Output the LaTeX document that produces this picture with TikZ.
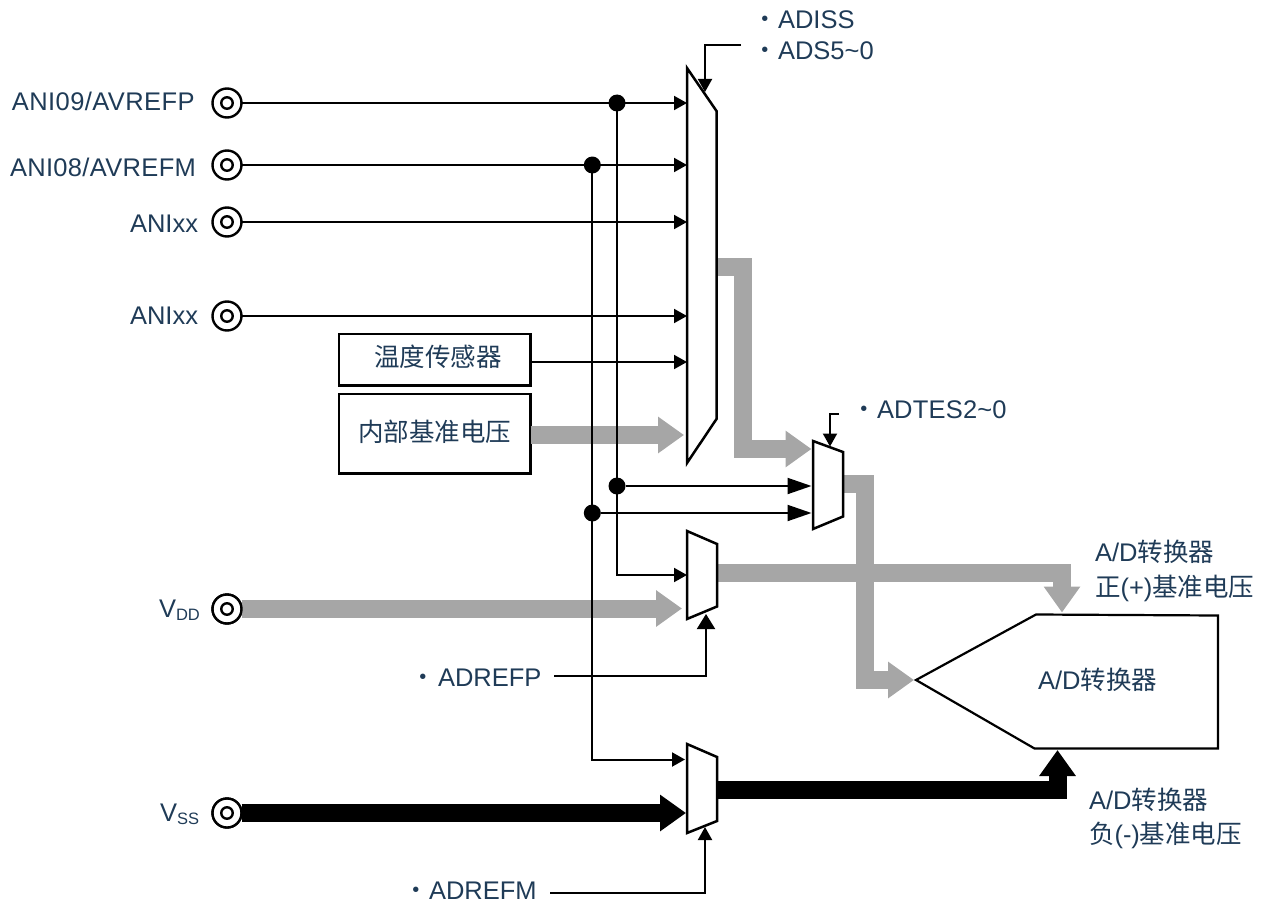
\documentclass[tikz,border=0pt]{standalone}
\usepackage{fontspec}
\setmainfont{Liberation Sans}
\newfontfamily\cjk{Noto Sans CJK SC}
\usetikzlibrary{arrows.meta}
\definecolor{txt}{HTML}{1F3B57}
\definecolor{busgray}{HTML}{A6A6A6}
\tikzset{
  x=1pt,y=-1pt,
  lbl/.style={inner sep=0pt,outer sep=0pt,anchor=base west,text=txt,font=\fontsize{25.5}{30}\selectfont},
  pin/.style={circle,draw=black,line width=2.4pt,fill=white,minimum size=29pt,inner sep=0pt,outer sep=0pt},
  pinin/.style={circle,draw=black,line width=2.4pt,minimum size=11.5pt,inner sep=0pt,outer sep=0pt},
  wire/.style={draw=black,line width=2pt},
  warrow/.style={wire,-{Triangle[length=13pt,width=14pt,sep=0pt]}},
  wbig/.style={wire,-{Triangle[length=24pt,width=16pt,sep=0pt]}},
  jdot/.style={circle,fill=black,minimum size=17pt,inner sep=0pt,outer sep=0pt},
  mux/.style={draw=black,line width=2.5pt,fill=white,line join=miter},
  graybus/.style={draw=busgray,line width=18pt,line join=miter,-{Triangle[length=26pt,width=35pt,sep=0pt]}},
  blackbus/.style={draw=black,line width=18pt,line join=miter,-{Triangle[length=26pt,width=35pt,sep=0pt]}},
  blockbox/.style={draw=black,line width=2.6pt,inner sep=0pt,outer sep=0pt,anchor=north west,text=txt,font=\fontsize{25.5}{30}\selectfont\cjk},
}
\newcommand{\zd}{{\cjk ・}}
\begin{document}
\begin{tikzpicture}
\useasboundingbox (0,0) rectangle (1267,907);
% coordinates
\coordinate (m1a) at (687,103);
\coordinate (m1b) at (687,165);
\coordinate (m1c) at (687,222);
\coordinate (m1d) at (687,316);
\coordinate (m1e) at (687,362);
\coordinate (m1f) at (684,435);
\coordinate (m1ctl) at (705,92);
\coordinate (adsx) at (741,45.5);
\coordinate (m1out) at (717,267);
\coordinate (m2a) at (811.5,449);
\coordinate (m2b) at (811.5,486);
\coordinate (m2c) at (811.5,513);
\coordinate (m2ctl) at (830,446.5);
\coordinate (adtx) at (839,414);
\coordinate (m2out) at (843,484);
\coordinate (m3a) at (687,575);
\coordinate (m3b) at (682,608.5);
\coordinate (m3ctl) at (706,614);
\coordinate (m3out) at (717,573);
\coordinate (refp) at (554,675.5);
\coordinate (m4a) at (685,759.5);
\coordinate (m4b) at (686,813);
\coordinate (m4ctl) at (705,827);
\coordinate (m4out) at (717,790);
\coordinate (refm) at (550,892.5);
\coordinate (adcl) at (914,680);
\coordinate (adct) at (1062,612.5);
\coordinate (adcb) at (1057.5,750);
% pins
\node[pin] (p1) at (227,103) {};
\node[pin] (p2) at (227,165) {};
\node[pin] (p3) at (227,222) {};
\node[pin] (p4) at (227,316) {};
\node[pin] (p5) at (227,609) {};
\node[pin] (p6) at (227,813) {};
% boxes
\node[blockbox,minimum width=191.5pt,minimum height=51.5pt] (b1) at (339,334) {\hspace{6pt}\raisebox{3.5pt}[\height][\depth]{温度传感器}};
\node[blockbox,minimum width=191.5pt,minimum height=79.5pt] (b2) at (339,394) {\raisebox{1.5pt}[\height][\depth]{内部基准电压}};
% buses
\draw[graybus] (b2.east |- m1f) -- (m1f);
\draw[graybus] (m1out) -- (743,267) -- (743,449) -- (m2a);
\draw[graybus] (m2out) -- (865,484) -- (865,680) -- (adcl);
\draw[graybus] (m3out) -- (1062,573) -- (adct);
\draw[graybus] (p5.east |- m3b) -- (m3b);
\draw[blackbus] (m4out) -- (1057.5,790) -- (adcb);
\draw[blackbus] (p6.east) -- (m4b);
% re-draw pins over bus ends
\node[pin] at (p5) {};
\node[pin] at (p6) {};
\foreach \p in {p1,p2,p3,p4,p5,p6} \node[pinin] at (\p) {};
% muxes
\draw[mux] (687,68) -- (716.5,111) -- (716.5,419) -- (687,463) -- cycle;
\draw[mux] (813,441) -- (843,452) -- (843,516.5) -- (813,529) -- cycle;
\draw[mux] (687,531) -- (717,544) -- (717,606.5) -- (687,619) -- cycle;
\draw[mux] (687,744) -- (717,757) -- (717,821) -- (687,833) -- cycle;
\draw[mux,line width=2.2pt] (916,680) -- (1036,614.5) -- (1218,615.5) -- (1218,748.5) -- (1034.5,748.5) -- cycle;
% wires
\draw[warrow] (p1.east) -- (m1a);
\draw[warrow] (p2.east) -- (m1b);
\draw[warrow] (p3.east) -- (m1c);
\draw[warrow] (p4.east) -- (m1d);
\draw[warrow] (b1.east |- m1e) -- (m1e);
\node[jdot] (j1) at (617,103) {};
\node[jdot] (j2) at (592.3,165) {};
\node[jdot] (j3) at (617,486) {};
\node[jdot] (j4) at (592.3,513) {};
\draw[wire] (j1.center) -- (j3.center);
\draw[warrow] (j3.center) -- (617,575) -- (m3a);
\draw[wire] (j2.center) -- (j4.center);
\draw[warrow] (j4.center) -- (592.3,759.5) -- (m4a);
\draw[wbig] (j3) -- (m2b);
\draw[wbig] (j4) -- (m2c);
\draw[warrow] (adsx) -- (705,45.5) -- (m1ctl);
\draw[warrow] (adtx) -- (830,414) -- (m2ctl);
\draw[wire,-{Triangle[length=15pt,width=18pt,sep=0pt]}] (refp) -- (706,675.5) -- (m3ctl);
\draw[warrow] (refm) -- (705,892.5) -- (m4ctl);
% labels
\node[lbl] (l1) at (12,110.5) {\addfontfeature{LetterSpace=1.6}ANI09/AVREFP};
\node[lbl] (l2) at (10,176) {\addfontfeature{LetterSpace=1.3}ANI08/AVREFM};
\node[lbl] (l3) at (130,232.5) {ANIxx};
\node[lbl] (l4) at (130,324) {ANIxx};
\node[lbl] (l5) at (159,617) {V{\fontsize{16.5}{20}\selectfont\raisebox{-3pt}{DD}}};
\node[lbl] (l6) at (160,821) {V{\fontsize{16.5}{20}\selectfont\raisebox{-3pt}{SS}}};
\node[lbl] (l7) at (752.5,28.5) {\zd ADISS};
\node[lbl] (l8) at (752.5,60) {\zd ADS5\textasciitilde 0};
\node[lbl] (l9) at (851.5,418) {\zd \addfontfeature{LetterSpace=0.8}ADTES2\textasciitilde 0};
\node[lbl] (l10) at (410,686) {\zd\hspace{2.5pt}ADREFP};
\node[lbl] (l11) at (403.5,899.5) {\zd ADREFM};
\node[lbl] (l12) at (1095,561.5) {A/D{\cjk 转换器}};
\node[lbl] (l13) at (1095,596) {{\cjk 正}(+){\cjk 基准电压}};
\node[lbl] (l14) at (1038,689) {A/D{\cjk 转换器}};
\node[lbl] (l15) at (1089,809) {A/D{\cjk 转换器}};
\node[lbl] (l16) at (1089,843) {{\cjk 负}(-){\cjk 基准电压}};
\end{tikzpicture}
\end{document}
